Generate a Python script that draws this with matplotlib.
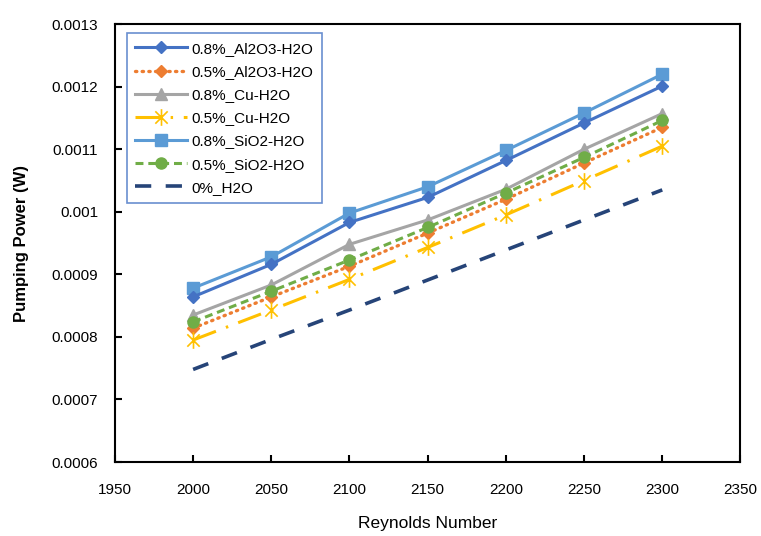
import matplotlib

matplotlib.use("Agg")
import matplotlib.pyplot as plt
from matplotlib.path import Path

# ---------------------------------------------------------------------------
# Data
# ---------------------------------------------------------------------------
reynolds = [2000, 2050, 2100, 2150, 2200, 2250, 2300]

al2o3_08 = [0.000864, 0.000916, 0.000983, 0.001023, 0.001082, 0.001142, 0.001201]
al2o3_05 = [0.000814, 0.000864, 0.000913, 0.000966, 0.001020, 0.001078, 0.001135]
cu_08    = [0.000835, 0.000883, 0.000948, 0.000987, 0.001036, 0.001100, 0.001157]
cu_05    = [0.000795, 0.000843, 0.000892, 0.000943, 0.000995, 0.001050, 0.001105]
sio2_08  = [0.000878, 0.000928, 0.000998, 0.001040, 0.001098, 0.001158, 0.001220]
sio2_05  = [0.000824, 0.000873, 0.000923, 0.000975, 0.001030, 0.001087, 0.001146]
water    = [0.000748, 0.000796, 0.000843, 0.000891, 0.000939, 0.000987, 0.001035]

labels = ["0.8%_Al2O3-H2O", "0.5%_Al2O3-H2O", "0.8%_Cu-H2O", "0.5%_Cu-H2O",
          "0.8%_SiO2-H2O", "0.5%_SiO2-H2O", "0%_H2O"]

x_ticks = [1950, 2000, 2050, 2100, 2150, 2200, 2250, 2300, 2350]
y_ticks = [0.0006, 0.0007, 0.0008, 0.0009, 0.001, 0.0011, 0.0012, 0.0013]
y_ticklabels = ["0.0006", "0.0007", "0.0008", "0.0009", "0.001", "0.0011", "0.0012", "0.0013"]

# Office palette
C_BLUE   = "#4472C4"
C_ORANGE = "#ED7D31"
C_GRAY   = "#A5A5A5"
C_GOLD   = "#FFC000"
C_LBLUE  = "#5B9BD5"
C_GREEN  = "#70AD47"
C_NAVY   = "#264478"

# star marker: an X with a vertical bar through it
STAR = Path(
    [(-1, -1), (1, 1), (-1, 1), (1, -1), (0, -1.35), (0, 1.35)],
    [Path.MOVETO, Path.LINETO, Path.MOVETO, Path.LINETO, Path.MOVETO, Path.LINETO],
)

plt.rcParams["font.family"] = ["Liberation Sans", "DejaVu Sans"]

fig = plt.figure(figsize=(7.61, 5.36), dpi=100)
ax = fig.add_axes([0.151, 0.138, 0.822, 0.817])

lw = 2.2
ax.plot(reynolds, al2o3_08, color=C_BLUE, lw=lw, marker="D", ms=6,
        label=labels[0], zorder=4)
ax.plot(reynolds, al2o3_05, color=C_ORANGE, lw=2.4, linestyle=(0, (0.4, 1.6)),
        dash_capstyle="round", marker="D", ms=6, label=labels[1], zorder=3)
ax.plot(reynolds, cu_08, color=C_GRAY, lw=lw, marker="^", ms=8,
        label=labels[2], zorder=3)
ax.plot(reynolds, cu_05, color=C_GOLD, lw=lw, linestyle=(0, (8, 3.5, 0.8, 3.5)),
        marker=STAR, ms=12, mew=1.2, label=labels[3], zorder=3)
ax.plot(reynolds, sio2_08, color=C_LBLUE, lw=lw, marker="s", ms=8,
        label=labels[4], zorder=3)
ax.plot(reynolds, sio2_05, color=C_GREEN, lw=lw, linestyle=(0, (2.6, 1.6)),
        marker="o", ms=8, label=labels[5], zorder=4)
ax.plot(reynolds, water, color=C_NAVY, lw=2.6, linestyle=(0, (4.5, 4)),
        label=labels[6], zorder=3)

ax.set_xlim(1950, 2350)
ax.set_ylim(0.0006, 0.0013)
ax.set_xticks(x_ticks)
ax.set_yticks(y_ticks)
ax.set_yticklabels(y_ticklabels)

ax.tick_params(axis="both", direction="in", length=5, width=1.5,
               labelsize=11, colors="black")
ax.tick_params(axis="x", pad=15)
ax.tick_params(axis="y", pad=12)
for sp in ax.spines.values():
    sp.set_linewidth(1.5)
    sp.set_color("black")

ax.set_xlabel("Reynolds Number", fontsize=12.5, labelpad=14)
ax.set_ylabel("Pumping Power (W)", fontsize=12, fontweight="semibold", labelpad=16)

leg = ax.legend(loc="upper left", bbox_to_anchor=(0.019, 0.979), borderaxespad=0,
                fontsize=11, handlelength=3.4, labelspacing=0.6,
                frameon=True, fancybox=False, borderpad=0.55, handletextpad=0.3)
leg.get_frame().set_edgecolor(C_BLUE)
leg.get_frame().set_linewidth(1.2)

fig.savefig("out.png", dpi=100)
